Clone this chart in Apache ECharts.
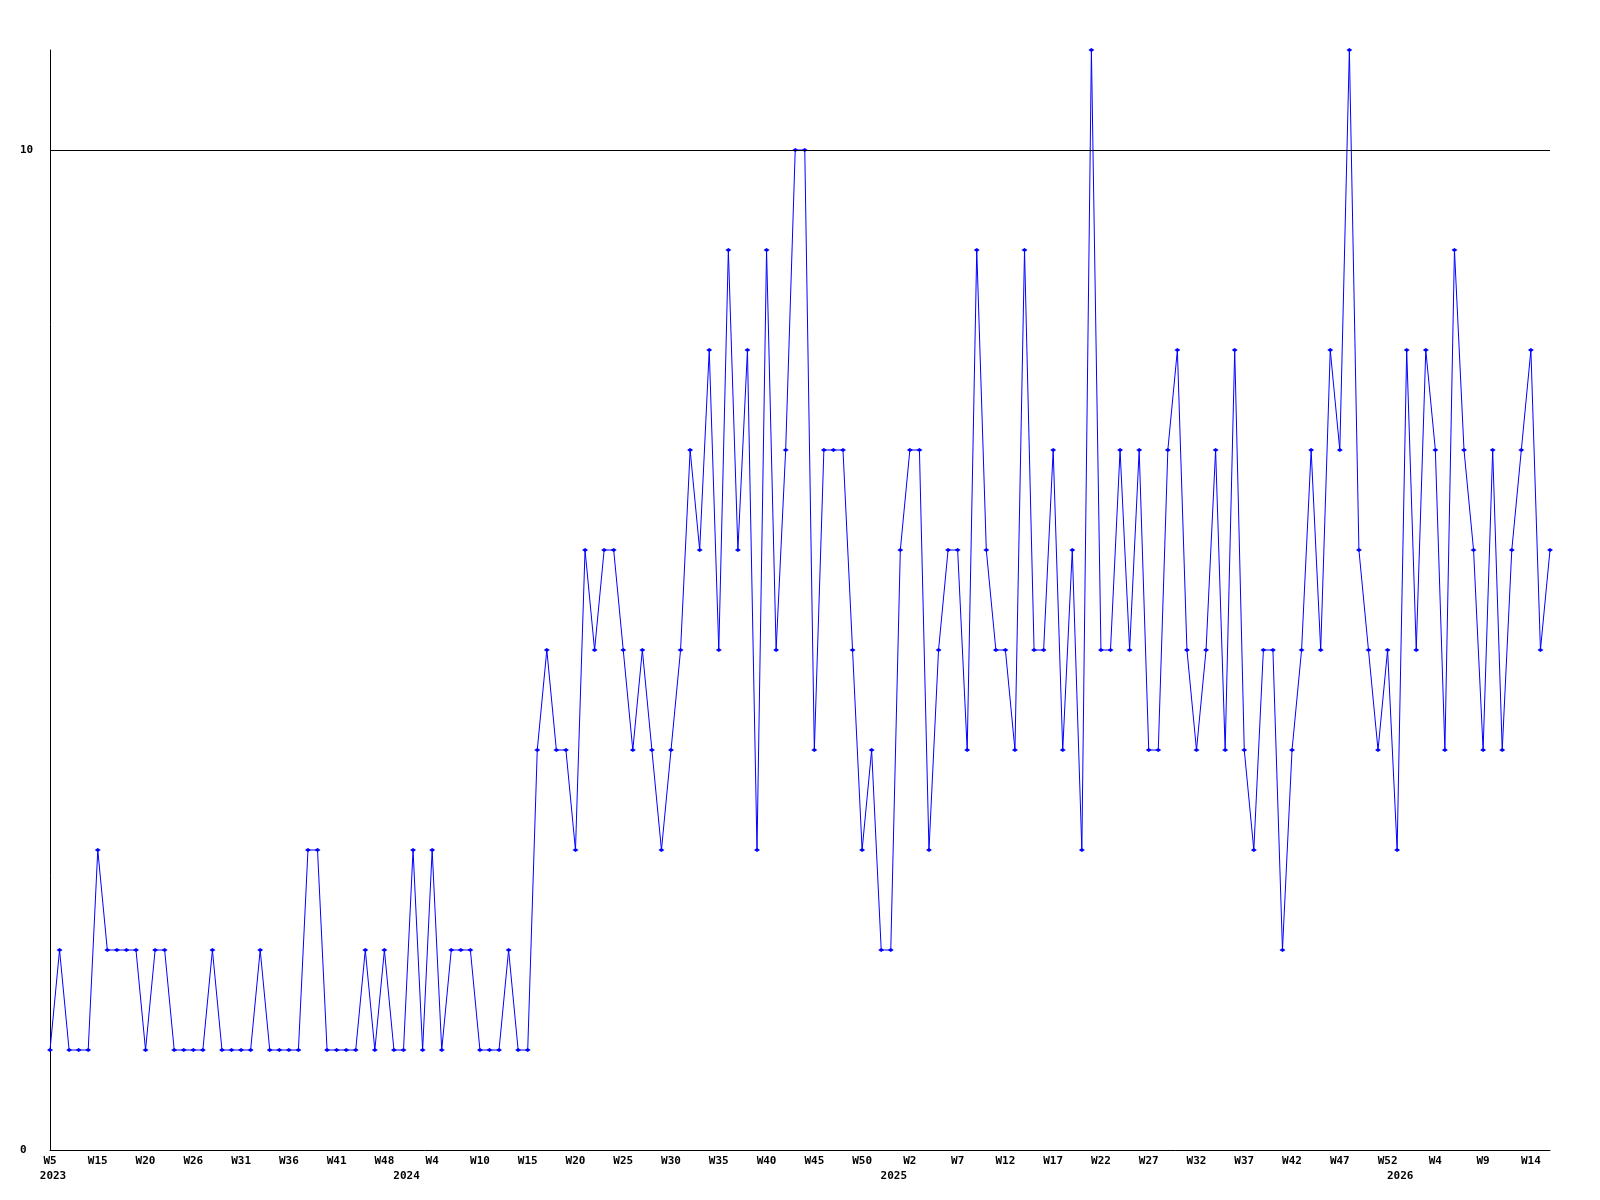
<!DOCTYPE html>
<html>
<head>
<meta charset="utf-8">
<script src="https://cdn.jsdelivr.net/npm/echarts@6/dist/echarts.min.js"></script>
<style>
html,body{margin:0;padding:0;background:#fff;}
#chart{width:1600px;height:1200px;}
</style>
</head>
<body>
<div id="chart"></div>
<script>
// Week numbers per year, in plotted order
const weeks2023 = [5,7,9,11,13,15,16,17,18,19,20,21,22,23,24,26,27,28,29,30,31,32,33,34,35,36,37,38,39,40,41,42,43,45,46,48,49,51];
const weeks2024 = [1,2,4,5,6,7,8,10,11,12,13,14,15,16,17,18,19,20,21,22,23,24,25,26,27,28,29,30,31,32,33,34,35,36,37,38,39,40,41,42,43,44,45,46,47,48,49,50,51,52,53];
const weeks2025 = [1,2,3,4,5,6,7,8,9,10,11,12,13,14,15,16,17,18,19,20,21,22,23,24,25,26,27,28,29,30,31,32,33,34,35,36,37,38,39,40,41,42,43,44,45,46,47,48,49,50,51,52,53];
const weeks2026 = [1,2,3,4,5,6,7,8,9,10,11,12,13,14,15,16];

const values = [
  1,2,1,1,1,3,2,2,2,2,1,2,2,1,1,1,1,2,1,1,
  1,1,2,1,1,1,1,3,3,1,1,1,1,2,1,2,1,1,3,1,
  3,1,2,2,2,1,1,1,2,1,1,4,5,4,4,3,6,5,6,6,
  5,4,5,4,3,4,5,7,6,8,5,9,6,8,3,9,5,7,10,10,
  4,7,7,7,5,3,4,2,2,6,7,7,3,5,6,6,4,9,6,5,
  5,4,9,5,5,7,4,6,3,11,5,5,7,5,7,4,4,7,8,5,
  4,5,7,4,8,4,3,5,5,2,4,5,7,5,8,7,11,6,5,4,
  5,3,8,5,8,7,4,9,7,6,4,7,4,6,7,8,5,6
];

const yTicks = [0, 10];
const refLine = 10;

const categories = []
  .concat(weeks2023.map(w => '2023-W' + w))
  .concat(weeks2024.map(w => '2024-W' + w))
  .concat(weeks2025.map(w => '2025-W' + w))
  .concat(weeks2026.map(w => '2026-W' + w));

const font = {fontFamily: 'DejaVu Sans Mono', fontWeight: 'bold', fontSize: 11, color: '#000'};

const chart = echarts.init(document.getElementById('chart'), null, {renderer: 'canvas'});
chart.setOption({
  animation: false,
  backgroundColor: '#fff',
  grid: {left: 50, right: 50, top: 50, bottom: 50, containLabel: false},
  xAxis: [
    {
      type: 'category',
      data: categories,
      boundaryGap: false,
      axisLine: {show: true, lineStyle: {color: '#000', width: 1}},
      axisTick: {show: false},
      splitLine: {show: false},
      axisLabel: Object.assign({}, font, {
        margin: 6,
        interval: (i) => i % 5 === 0,
        formatter: (v) => v.split('-')[1]
      })
    },
    {
      type: 'category',
      data: categories,
      boundaryGap: false,
      position: 'bottom',
      offset: 15,
      axisLine: {show: false},
      axisTick: {show: false},
      splitLine: {show: false},
      axisLabel: Object.assign({}, font, {
        margin: 6,
        interval: (i, v) => i === 0 || /-W1$/.test(v),
        formatter: (v, i) => i === 0 ? '{f|' + v.split('-')[0] + '}' : '{y|' + v.split('-')[0] + '}',
        rich: {
          f: Object.assign({}, font, {padding: [0, 0, 0, 6]}),
          y: Object.assign({}, font, {padding: [0, 13, 0, 0]})
        }
      })
    }
  ],
  yAxis: {
    type: 'value',
    min: 0,
    max: 11,
    interval: 10,
    axisLine: {show: true, lineStyle: {color: '#000', width: 1}},
    axisTick: {show: false},
    splitLine: {show: false},
    axisLabel: Object.assign({}, font, {
      align: 'left',
      margin: 30,
      showMaxLabel: false,
      formatter: (v) => yTicks.indexOf(v) >= 0 ? String(v) : ''
    })
  },
  series: [{
    type: 'line',
    xAxisIndex: 0,
    data: values,
    symbol: 'diamond',
    symbolSize: [6, 4],
    showAllSymbol: true,
    lineStyle: {color: '#0000ff', width: 1},
    itemStyle: {color: '#0000ff'},
    markLine: {
      silent: true,
      symbol: ['none', 'none'],
      label: {show: false},
      lineStyle: {color: '#000', width: 1, type: 'solid'},
      data: [{yAxis: refLine}]
    }
  }]
});
</script>
</body>
</html>
